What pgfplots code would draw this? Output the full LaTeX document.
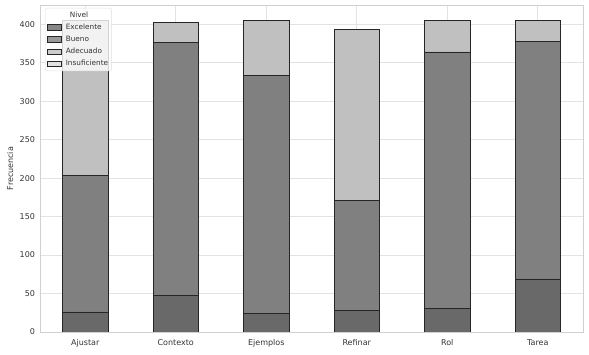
\documentclass[border=0pt]{standalone}
\usepackage{fontspec}
\setmainfont{DejaVu Sans}
\usepackage{pgfplots}
\pgfplotsset{compat=1.18}
\definecolor{cExc}{HTML}{696969}
\definecolor{cBue}{HTML}{808080}
\definecolor{cAde}{HTML}{C0C0C0}
\definecolor{cIns}{HTML}{DCDCDC}
\definecolor{gridc}{HTML}{E3E3E3}
\definecolor{spinec}{HTML}{D0D0D0}
\begin{document}
\begin{tikzpicture}
\begin{axis}[
  name=ax, at={(0pt,0pt)}, anchor=south west,
  scale only axis, width=543pt, height=327pt,
  ybar stacked, bar width=0.5,
  xmin=-0.5, xmax=5.5, ymin=0, ymax=425,
  xtick={0,1,2,3,4,5},
  xticklabels={Ajustar,Contexto,Ejemplos,Refinar,Rol,Tarea},
  ytick={0,50,100,150,200,250,300,350,400},
  grid=major,
  major grid style={draw=gridc, line width=0.9pt},
  axis line style={draw=spinec, line width=0.9pt},
  major tick length=0pt,
  /pgf/number format/assume math mode=true,
  tick label style={font=\fontsize{8}{9}\selectfont, text=black!80},
  xticklabel style={yshift=-4pt},
  yticklabel style={xshift=-1.5pt},
  ylabel={Frecuencia},
  ylabel style={font=\fontsize{8}{9}\selectfont, text=black!80, at={(axis description cs:-0.0552,0.5)}, anchor=center},
  every axis plot/.append style={draw=black!85, line width=0.7pt},
  legend image code/.code={\draw[#1, line width=0.6pt, sharp corners] (0pt,-2.8pt) rectangle (14pt,2.8pt);},
  legend cell align=left,
  legend style={at={(0.0092,0.991)}, anchor=north west,
    draw=gray!25, fill=white, fill opacity=0.8, text opacity=1, draw opacity=1,
    rounded corners=1.5pt,
    font=\fontsize{7.3}{8}\selectfont, text=black!80,
    inner sep=2pt, row sep=2.2pt,
    nodes={inner sep=1.5pt},
    /tikz/every odd column/.append style={column sep=2.5pt}},
]
\addlegendimage{empty legend}
\addlegendentry{\hspace{4pt}Nivel}
\addplot[fill=cExc] coordinates {(0,26) (1,47) (2,24) (3,28) (4,31) (5,69)};
\addlegendentry{Excelente}
\addplot[fill=cBue] coordinates {(0,177) (1,329) (2,310) (3,143) (4,333) (5,309)};
\addlegendentry{Bueno}
\addplot[fill=cAde] coordinates {(0,202) (1,26) (2,71) (3,222) (4,41) (5,27)};
\addlegendentry{Adecuado}
\addlegendimage{fill=cIns, draw=black!85}
\addlegendentry{Insuficiente}
\end{axis}
\pgfresetboundingbox
\path[use as bounding box] (-40pt,-23pt) rectangle (549pt,332pt);
\end{tikzpicture}
\end{document}
